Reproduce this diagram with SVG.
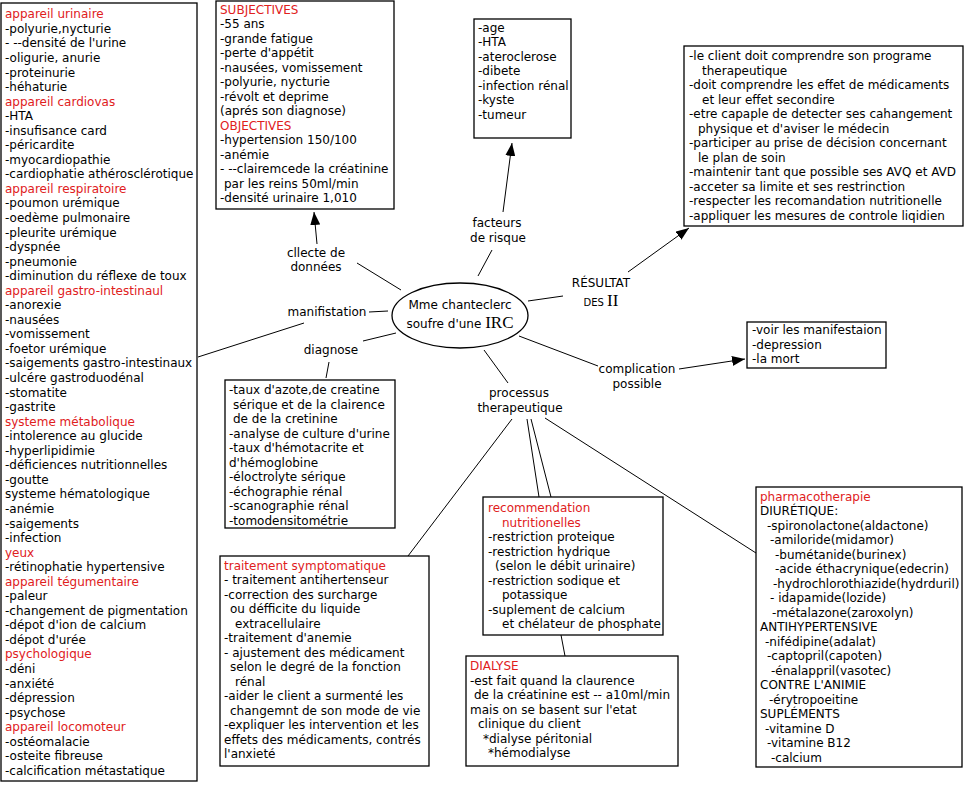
<svg xmlns="http://www.w3.org/2000/svg" width="967" height="785" viewBox="0 0 967 785">
<defs>
<style>
.t{font-family:"DejaVu Sans",Verdana,sans-serif;font-size:12px;fill:#000}
.r{fill:#e0201c}
.box{fill:#fff;stroke:#000;stroke-width:1.3}
.ln{stroke:#000;stroke-width:1;fill:none}
.sf{font-family:"Liberation Serif","Times New Roman",serif;font-size:17px}
</style>
<marker id="ah" viewBox="0 0 13 10" refX="13" refY="5" markerWidth="13" markerHeight="10" markerUnits="userSpaceOnUse" orient="auto">
<path d="M0,0 L13,5 L0,10 Z" fill="#000"/>
</marker>
</defs>
<rect x="0" y="0" width="967" height="785" fill="#fff"/>

<g id="connectors">
<line class="ln" x1="317" y1="244" x2="314" y2="212" marker-end="url(#ah)"/>
<line class="ln" x1="357" y1="263" x2="401" y2="290"/>
<line class="ln" x1="503" y1="212" x2="512" y2="143" marker-end="url(#ah)"/>
<line class="ln" x1="492" y1="250" x2="478" y2="276"/>
<line class="ln" x1="528" y1="301" x2="563" y2="296"/>
<line class="ln" x1="628" y1="272" x2="689" y2="228" marker-end="url(#ah)"/>
<line class="ln" x1="519" y1="336" x2="598" y2="366"/>
<line class="ln" x1="679" y1="369" x2="745" y2="359" marker-end="url(#ah)"/>
<line class="ln" x1="369" y1="312" x2="388" y2="311"/>
<line class="ln" x1="304" y1="323" x2="198" y2="357"/>
<line class="ln" x1="396" y1="333" x2="363" y2="341"/>
<line class="ln" x1="329" y1="362" x2="326" y2="378"/>
<line class="ln" x1="484" y1="350" x2="508" y2="383"/>
<line class="ln" x1="512" y1="419" x2="408" y2="556"/>
<line class="ln" x1="527" y1="419" x2="539" y2="497"/>
<line class="ln" x1="531" y1="419" x2="551" y2="497"/>
<line class="ln" x1="545" y1="418" x2="756" y2="553"/>
<line class="ln" x1="561" y1="635" x2="565" y2="656"/>
</g>

<g id="center">
<ellipse cx="460" cy="315.5" rx="68" ry="32.5" fill="#fff" stroke="#000" stroke-width="1.3"/>
<text class="t" x="460" y="309" text-anchor="middle">Mme chanteclerc</text>
<text class="t" x="460" y="328" text-anchor="middle">soufre d'une <tspan class="sf">IRC</tspan></text>
</g>

<g id="labels">
<text class="t" x="316" y="257" text-anchor="middle">cllecte de</text>
<text class="t" x="316" y="271" text-anchor="middle">données</text>
<text class="t" x="497" y="227" text-anchor="middle">facteurs</text>
<text class="t" x="498" y="242" text-anchor="middle">de risque</text>
<text class="t" x="601" y="287" text-anchor="middle">RÉSULTAT</text>
<text class="t" x="601" y="306" text-anchor="middle"><tspan style="font-size:10px">DES </tspan><tspan class="sf">II</tspan></text>
<text class="t" x="327" y="316" text-anchor="middle">manifistation</text>
<text class="t" x="331" y="354" text-anchor="middle">diagnose</text>
<text class="t" x="519" y="397" text-anchor="middle">processus</text>
<text class="t" x="520" y="412" text-anchor="middle">therapeutique</text>
<text class="t" x="637" y="373" text-anchor="middle">complication</text>
<text class="t" x="637" y="388" text-anchor="middle">possible</text>
</g>

<g id="manifestations">
<rect class="box" x="1" y="3" width="196" height="778"/>
<text class="t">
<tspan x="5" y="18.3" class="r">appareil urinaire</tspan>
<tspan x="5" dy="14.55">-polyurie,nycturie</tspan>
<tspan x="5" dy="14.55">- --densité de l'urine</tspan>
<tspan x="5" dy="14.55">-oligurie, anurie</tspan>
<tspan x="5" dy="14.55">-proteinurie</tspan>
<tspan x="5" dy="14.55">-héhaturie</tspan>
<tspan x="5" dy="14.55" class="r">appareil cardiovas</tspan>
<tspan x="5" dy="14.55">-HTA</tspan>
<tspan x="5" dy="14.55">-insufisance card</tspan>
<tspan x="5" dy="14.55">-péricardite</tspan>
<tspan x="5" dy="14.55">-myocardiopathie</tspan>
<tspan x="5" dy="14.55">-cardiophatie athérosclérotique</tspan>
<tspan x="5" dy="14.55" class="r">appareil respiratoire</tspan>
<tspan x="5" dy="14.55">-poumon urémique</tspan>
<tspan x="5" dy="14.55">-oedème pulmonaire</tspan>
<tspan x="5" dy="14.55">-pleurite urémique</tspan>
<tspan x="5" dy="14.55">-dyspnée</tspan>
<tspan x="5" dy="14.55">-pneumonie</tspan>
<tspan x="5" dy="14.55">-diminution du réflexe de toux</tspan>
<tspan x="5" dy="14.55" class="r">appareil gastro-intestinaul</tspan>
<tspan x="5" dy="14.55">-anorexie</tspan>
<tspan x="5" dy="14.55">-nausées</tspan>
<tspan x="5" dy="14.55">-vomissement</tspan>
<tspan x="5" dy="14.55">-foetor urémique</tspan>
<tspan x="5" dy="14.55">-saigements gastro-intestinaux</tspan>
<tspan x="5" dy="14.55">-ulcére gastroduodénal</tspan>
<tspan x="5" dy="14.55">-stomatite</tspan>
<tspan x="5" dy="14.55">-gastrite</tspan>
<tspan x="5" dy="14.55" class="r">systeme métabolique</tspan>
<tspan x="5" dy="14.55">-intolerence au glucide</tspan>
<tspan x="5" dy="14.55">-hyperlipidimie</tspan>
<tspan x="5" dy="14.55">-déficiences nutritionnelles</tspan>
<tspan x="5" dy="14.55">-goutte</tspan>
<tspan x="5" dy="14.55">systeme hématologique</tspan>
<tspan x="5" dy="14.55">-anémie</tspan>
<tspan x="5" dy="14.55">-saigements</tspan>
<tspan x="5" dy="14.55">-infection</tspan>
<tspan x="5" dy="14.55" class="r">yeux</tspan>
<tspan x="5" dy="14.55">-rétinophatie hypertensive</tspan>
<tspan x="5" dy="14.55" class="r">appareil tégumentaire</tspan>
<tspan x="5" dy="14.55">-paleur</tspan>
<tspan x="5" dy="14.55">-changement de pigmentation</tspan>
<tspan x="5" dy="14.55">-dépot d'ion de calcium</tspan>
<tspan x="5" dy="14.55">-dépot d'urée</tspan>
<tspan x="5" dy="14.55" class="r">psychologique</tspan>
<tspan x="5" dy="14.55">-déni</tspan>
<tspan x="5" dy="14.55">-anxiété</tspan>
<tspan x="5" dy="14.55">-dépression</tspan>
<tspan x="5" dy="14.55">-psychose</tspan>
<tspan x="5" dy="14.55" class="r">appareil locomoteur</tspan>
<tspan x="5" dy="14.55">-ostéomalacie</tspan>
<tspan x="5" dy="14.55">-osteite fibreuse</tspan>
<tspan x="5" dy="14.55">-calcification métastatique</tspan>
</text>
</g>

<g id="collecte">
<rect class="box" x="216" y="1" width="178" height="208"/>
<text class="t">
<tspan x="220" y="13.5" class="r">SUBJECTIVES</tspan>
<tspan x="220" dy="14.5">-55 ans</tspan>
<tspan x="220" dy="14.5">-grande fatigue</tspan>
<tspan x="220" dy="14.5">-perte d'appétit</tspan>
<tspan x="220" dy="14.5">-nausées, vomissement</tspan>
<tspan x="220" dy="14.5">-polyurie, nycturie</tspan>
<tspan x="220" dy="14.5">-révolt et deprime</tspan>
<tspan x="220" dy="14.5">(aprés son diagnose)</tspan>
<tspan x="220" dy="14.5" class="r">OBJECTIVES</tspan>
<tspan x="220" dy="14.5">-hypertension 150/100</tspan>
<tspan x="220" dy="14.5">-anémie</tspan>
<tspan x="220" dy="14.5">- --clairemcede la créatinine</tspan>
<tspan x="224" dy="14.5">par les reins 50ml/min</tspan>
<tspan x="220" dy="14.5">-densité urinaire 1,010</tspan>
</text>
</g>

<g id="risque">
<rect class="box" x="474" y="19" width="97" height="119"/>
<text class="t">
<tspan x="478" y="31.5">-age</tspan>
<tspan x="478" dy="14.5">-HTA</tspan>
<tspan x="478" dy="14.5">-ateroclerose</tspan>
<tspan x="478" dy="14.5">-dibete</tspan>
<tspan x="478" dy="14.5">-infection rénal</tspan>
<tspan x="478" dy="14.5">-kyste</tspan>
<tspan x="478" dy="14.5">-tumeur</tspan>
</text>
</g>

<g id="resultats">
<rect class="box" x="684" y="46" width="279" height="180"/>
<text class="t">
<tspan x="689" y="60">-le client doit comprendre son programe</tspan>
<tspan x="702" dy="14.5">therapeutique</tspan>
<tspan x="689" dy="14.5">-doit comprendre les effet de médicaments</tspan>
<tspan x="702" dy="14.5">et leur effet secondire</tspan>
<tspan x="689" dy="14.5">-etre capaple de detecter ses cahangement</tspan>
<tspan x="698" dy="14.5">physique et d'aviser le médecin</tspan>
<tspan x="689" dy="14.5">-participer au prise de décision concernant</tspan>
<tspan x="698" dy="14.5">le plan de soin</tspan>
<tspan x="689" dy="14.5">-maintenir tant que possible ses AVQ et AVD</tspan>
<tspan x="689" dy="14.5">-acceter sa limite et ses restrinction</tspan>
<tspan x="689" dy="14.5">-respecter les recomandation nutritionelle</tspan>
<tspan x="689" dy="14.5">-appliquer les mesures de controle liqidien</tspan>
</text>
</g>

<g id="complication">
<rect class="box" x="747" y="322" width="139" height="46"/>
<text class="t">
<tspan x="752" y="334">-voir les manifestaion</tspan>
<tspan x="752" dy="14.5">-depression</tspan>
<tspan x="752" dy="14.5">-la mort</tspan>
</text>
</g>

<g id="diagnose">
<rect class="box" x="225" y="380" width="170" height="148"/>
<text class="t">
<tspan x="229" y="394">-taux d'azote,de creatine</tspan>
<tspan x="233" dy="14.5">sérique et de la clairence</tspan>
<tspan x="233" dy="14.5">de de la cretinine</tspan>
<tspan x="229" dy="14.5">-analyse de culture d'urine</tspan>
<tspan x="229" dy="14.5">-taux d'hémotacrite et</tspan>
<tspan x="229" dy="14.5">d'hémoglobine</tspan>
<tspan x="229" dy="14.5">-éloctrolyte sérique</tspan>
<tspan x="229" dy="14.5">-échographie rénal</tspan>
<tspan x="229" dy="14.5">-scanographie rénal</tspan>
<tspan x="229" dy="14.5">-tomodensitométrie</tspan>
</text>
</g>

<g id="traitement">
<rect class="box" x="220" y="556" width="209" height="210"/>
<text class="t">
<tspan x="224" y="569.5" class="r">traitement symptomatique</tspan>
<tspan x="224" dy="14.5">- traitement antihertenseur</tspan>
<tspan x="224" dy="14.5">-correction des surcharge</tspan>
<tspan x="230" dy="14.5">ou défficite du liquide</tspan>
<tspan x="235" dy="14.5">extracellulaire</tspan>
<tspan x="224" dy="14.5">-traitement d'anemie</tspan>
<tspan x="224" dy="14.5">- ajustement des médicament</tspan>
<tspan x="230" dy="14.5">selon le degré de la fonction</tspan>
<tspan x="235" dy="14.5">rénal</tspan>
<tspan x="224" dy="14.5">-aider le client a surmenté les</tspan>
<tspan x="230" dy="14.5">changemnt de son mode de vie</tspan>
<tspan x="224" dy="14.5">-expliquer les intervention et les</tspan>
<tspan x="224" dy="14.5">effets des médicaments, contrés</tspan>
<tspan x="224" dy="14.5">l'anxieté</tspan>
</text>
</g>

<g id="recommendation">
<rect class="box" x="483" y="497" width="180" height="138"/>
<text class="t">
<tspan x="488" y="512" class="r">recommendation</tspan>
<tspan x="502" dy="14.5" class="r">nutritionelles</tspan>
<tspan x="488" dy="14.5">-restriction proteique</tspan>
<tspan x="488" dy="14.5">-restriction hydrique</tspan>
<tspan x="495" dy="14.5">(selon le débit urinaire)</tspan>
<tspan x="488" dy="14.5">-restriction sodique et</tspan>
<tspan x="502" dy="14.5">potassique</tspan>
<tspan x="488" dy="14.5">-suplement de calcium</tspan>
<tspan x="502" dy="14.5">et chélateur de phosphate</tspan>
</text>
</g>

<g id="dialyse">
<rect class="box" x="466" y="656" width="212" height="110"/>
<text class="t">
<tspan x="470" y="670" class="r">DIALYSE</tspan>
<tspan x="470" dy="14.5">-est fait quand la claurence</tspan>
<tspan x="474" dy="14.5">de la créatinine est -- a10ml/min</tspan>
<tspan x="470" dy="14.5">mais on se basent sur l'etat</tspan>
<tspan x="478" dy="14.5">clinique du client</tspan>
<tspan x="483" dy="14.5">*dialyse péritonial</tspan>
<tspan x="488" dy="14.5">*hémodialyse</tspan>
</text>
</g>

<g id="pharmacotherapie">
<rect class="box" x="756" y="487" width="206" height="280"/>
<text class="t">
<tspan x="760" y="500.5" class="r">pharmacotherapie</tspan>
<tspan x="760" dy="14.5">DIURÉTIQUE:</tspan>
<tspan x="767" dy="14.5">-spironolactone(aldactone)</tspan>
<tspan x="770" dy="14.5">-amiloride(midamor)</tspan>
<tspan x="775" dy="14.5">-bumétanide(burinex)</tspan>
<tspan x="775" dy="14.5">-acide éthacrynique(edecrin)</tspan>
<tspan x="773" dy="14.5">-hydrochlorothiazide(hydrduril)</tspan>
<tspan x="770" dy="14.5">- idapamide(lozide)</tspan>
<tspan x="772" dy="14.5">-métalazone(zaroxolyn)</tspan>
<tspan x="760" dy="14.5">ANTIHYPERTENSIVE</tspan>
<tspan x="765" dy="14.5">-nifédipine(adalat)</tspan>
<tspan x="767" dy="14.5">-captopril(capoten)</tspan>
<tspan x="771" dy="14.5">-énalappril(vasotec)</tspan>
<tspan x="760" dy="14.5">CONTRE L'ANIMIE</tspan>
<tspan x="769" dy="14.5">-érytropoeitine</tspan>
<tspan x="760" dy="14.5">SUPLÉMENTS</tspan>
<tspan x="765" dy="14.5">-vitamine D</tspan>
<tspan x="767" dy="14.5">-vitamine B12</tspan>
<tspan x="771" dy="14.5">-calcium</tspan>
</text>
</g>
</svg>
